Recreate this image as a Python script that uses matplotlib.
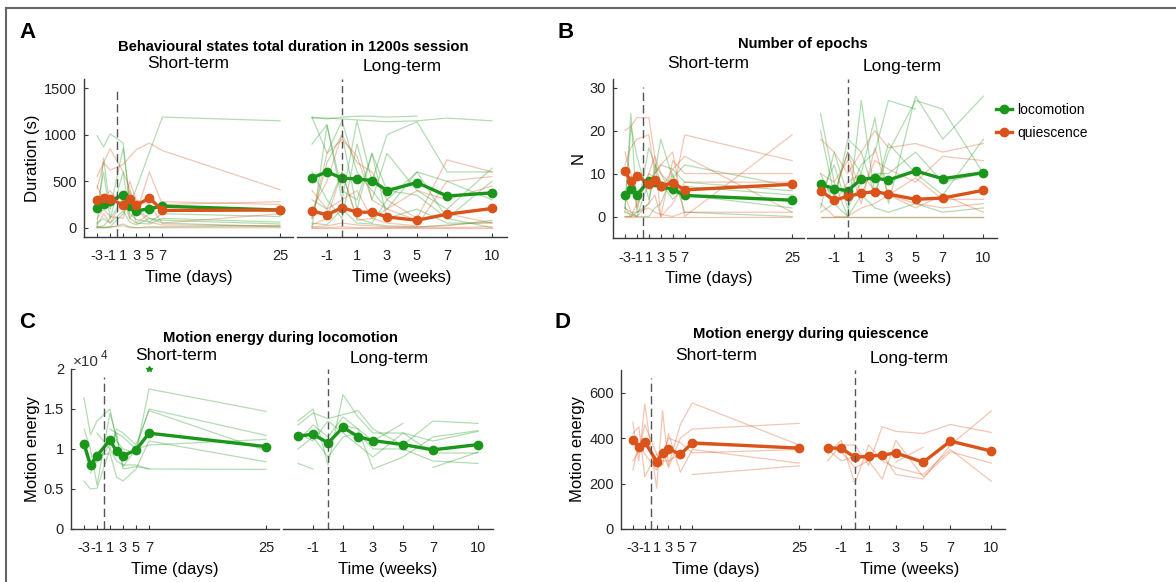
import numpy as np
import matplotlib
matplotlib.use("Agg")
from matplotlib import pyplot as plt
from matplotlib.lines import Line2D

plt.rcParams['font.family'] = ['Liberation Sans', 'DejaVu Sans']

GREEN = '#1a961a'
ORANGE = '#d9531a'
AXCOL = '#3a3a3a'
nan = np.nan

x_short = [-3, -2, -1, 1, 2, 3, 5, 7, 25]
x_long = [-2, -1, 0, 1, 2, 3, 5, 7, 10]
short_ticks = [-3, -1, 1, 3, 5, 7, 25]
long_ticks = [-1, 1, 3, 5, 7, 10]

# A: total duration (s)
dur_loco_short_mean = [217, 250, 283, 357, 232, 182, 204, 232, 190]
dur_quie_short_mean = [296, 321, 311, 243, 304, 239, 321, 186, 190]
dur_loco_long_mean = [536, 601, 533, 525, 507, 399, 486, 341, 375]
dur_quie_long_mean = [181, 138, 217, 167, 167, 116, 80, 145, 207]

dur_loco_short = [
    [990, 870, 1010, 910, 250, 420, 810, 1190, 1150],
    [30, 750, 200, 860, 300, 50, 40, 100, 60],
    [10, 20, 100, 600, 100, 200, 100, 50, 10],
    [10, 5, 10, 150, 280, 150, 200, 230, 190],
    [0, 0, 0, 40, 10, 0, 10, 10, 20],
    [200, 600, 100, 300, 150, 90, 60, 150, 120],
    [50, 100, 50, 180, 60, 30, 100, 80, 40],
]
dur_quie_short = [
    [420, 700, 620, 680, 760, 840, 910, 830, 410],
    [550, 700, 850, 600, 420, 200, 60, 30, 20],
    [100, 200, 120, 100, 400, 150, 600, 250, 280],
    [20, 150, 50, 300, 100, 50, 150, 280, 250],
    [0, 0, 10, 20, 0, 0, 0, 0, 0],
    [450, 300, 400, 200, 500, 300, 250, 50, 150],
]
dur_loco_long = [
    [1190, 1170, 1190, 1200, 1200, 1190, 1200, nan, nan],
    [1180, 1180, 1170, 1160, 1150, 1140, 1150, 1180, 1150],
    [900, 1110, 300, 1150, 500, 1000, 1140, 600, 600],
    [1190, 800, 1150, 600, 400, 200, 600, 500, 300],
    [100, 700, 1000, 200, 800, 400, 350, 100, 500],
    [600, 300, 100, 900, 300, 800, 400, 200, 640],
    [300, 200, 600, 100, 50, 300, 600, 100, 0],
    [0, 1100, 400, 300, 800, 100, 200, 50, 50],
    [50, 30, 200, 50, 40, 20, 10, 20, 80],
]
dur_quie_long = [
    [200, 500, 1000, 700, 600, 300, 100, 730, 600],
    [100, 800, 950, 770, 300, 200, 400, 300, 450],
    [0, 0, 0, 0, 0, 0, 0, 0, 0],
    [30, 100, 600, 80, 100, 50, 20, 500, 550],
    [400, 200, 300, 400, 100, 200, 80, 150, 50],
    [10, 20, 50, 30, 20, 10, 5, 30, 60],
    [0, 0, 10, 0, 0, 0, 0, 0, 10],
]

# B: number of epochs
epo_loco_short_mean = [4.9, 6.3, 5.1, 8.2, 8.1, 7.0, 6.3, 4.9, 3.8]
epo_quie_short_mean = [10.5, 8.2, 9.5, 7.6, 8.4, 7.0, 7.9, 6.2, 7.5]
epo_loco_long_mean = [7.5, 6.5, 6.0, 8.7, 8.9, 8.5, 10.6, 8.8, 10.2]
epo_quie_long_mean = [6.0, 3.8, 4.7, 5.4, 5.8, 5.2, 4.0, 4.3, 6.1]

epo_loco_short = [
    [2, 24, 1, 16, 12, 10, 7, 5, 2],
    [1, 21, 14, 4, 10, 18, 9, 12, 7],
    [1, 0.5, 0, 8, 10, 12, 11, 8, 6],
    [2, 1, 0, 0, 2, 3, 10, 1, 0],
    [0, 0, 1, 3, 12, 8, 4, 7, 5],
]
epo_quie_short = [
    [20, 21, 23, 23, 14, 10, 5, 19, 13],
    [12, 16, 18, 19, 10, 12, 15, 0, 19],
    [15, 10, 2, 10, 9, 6, 11, 14, 1],
    [0, 0, 3, 10, 14, 0, 13, 10, 10],
    [2, 0, 0, 3, 5, 0, 3, 8, 8],
    [0, 0, 0, 0, 0, 0, 0, 0, 0],
    [5, 1, 1, 2, 1, 0.5, 0, 1, 1],
]
epo_loco_long = [
    [24, 8, 0, 27, 5, 15, 27, 25, 10],
    [20, 5, 15, 10, 23, 3, 28, 18, 28],
    [2, 15, 5, 12, 15, 27, 25, nan, nan],
    [10, 3, 18, 15, 5, 17, 10, 5, 18],
    [5, 12, 2, 8, 10, 10, 15, 8, 10],
    [0, 0, 0, 0, 0, 0, 0, 0, 0],
    [1, 3, 0, 5, 2, 1, 3, 1, 2],
]
epo_quie_long = [
    [18, 15, 10, 15, 20, 16, 17, 15, 17],
    [8, 5, 15, 5, 13, 11, 8, 14, 13],
    [3, 0, 0, 2, 3, 5, 3, 2, 3],
    [0, 0, 0, 0, 0, 0, 0, 0, 0],
    [6, 3, 8, 10, 6, 5, 2, 5, 1],
    [10, 8, 13, 3, 16, 5, 9, 4, 4],
]

# C: motion energy during locomotion
me_loco_short_mean = [10680, 7970, 9160, 11140, 9700, 9160, 9870, 11980, 10300]
me_loco_long_mean = [11600, 11850, 10760, 12700, 11550, 11050, 10550, 9900, 10550]
me_loco_star = [7, 20000]

me_loco_short = [
    [16400, 11800, 13500, 15000, 11000, 10000, 9500, 17500, 14700],
    [12500, 10000, 5500, 14500, 11500, 7800, 10000, 15000, 11700],
    [6000, 5000, 5100, 10000, 12500, 12000, 10500, 14800, 9800],
    [nan, 7000, 9000, 9500, 6500, 6000, 7500, 11000, 8400],
    [nan, nan, 12000, 10000, 8500, 8000, 8000, 7500, 7450],
    [nan, nan, nan, 12500, 12000, 7500, 7800, 7500, nan],
    [10000, 7500, 8500, 10500, 12000, 11500, 10000, 10500, 11200],
]
me_loco_long = [
    [13500, 15000, 8000, 16800, 14000, 12000, 12000, 11000, 12200],
    [13000, 14500, 13800, 14300, 14800, 12500, 10500, 13500, 13200],
    [11000, 13000, 11500, 14000, 12500, 7500, 9000, 11500, 12300],
    [10000, 11500, 9000, 11500, 12000, 10000, 10000, 8500, 8200],
    [8200, 7500, nan, nan, nan, nan, nan, nan, nan],
    [12000, 11000, 13500, 12000, 10500, 9000, 12000, 9500, 9500],
    [nan, nan, nan, 13000, 12500, 11000, 13200, nan, nan],
    [nan, nan, nan, nan, nan, nan, nan, 7700, 9600],
]

# D: motion energy during quiescence
me_quie_short_mean = [390, 360, 384, 297, 334, 354, 328, 379, 356]
me_quie_long_mean = [356, 356, 315, 321, 325, 335, 294, 387, 343]

me_quie_short = [
    [470, 300, 550, 180, 520, 280, 460, 555, 370],
    [420, 450, 230, 330, 280, 420, 250, 350, 290],
    [260, 380, 330, 260, 320, 400, 380, 335, 350],
    [nan, nan, nan, 290, 350, 270, 400, 440, 465],
    [nan, nan, nan, nan, nan, nan, nan, 240, 278],
    [300, 340, 460, 330, 300, 300, 330, 370, 360],
]
me_quie_long = [
    [330, 390, 200, 370, 300, 270, 240, 350, 210],
    [300, 370, 370, 280, 450, 430, 420, 460, 425],
    [360, 340, 270, 300, 220, 390, 230, 340, 290],
    [nan, nan, nan, nan, nan, 295, 360, nan, nan],
    [350, 300, 320, 310, 330, 240, 220, 370, 520],
]


def frac(x0, y0, x1, y1):
    W, H = 1176.0, 582.0
    return [x0 / W, 1 - y1 / H, (x1 - x0) / W, (y1 - y0) / H]


def draw_side(ax, x, series, xlim, ticks, xlabel, scale):
    for traces, mean, color in series:
        for tr in traces:
            tr = np.asarray(tr, dtype=float)
            ok = np.isfinite(tr)
            ax.plot(np.asarray(x)[ok], tr[ok] / scale, color=color, lw=0.9, alpha=0.33)
    for traces, mean, color in series:
        ax.plot(x, np.asarray(mean) / scale, 'o-', color=color, lw=2.4, ms=6)
    ax.set_xlim(xlim)
    ax.set_xticks(ticks)
    ax.set_xticklabels([str(t) for t in ticks])
    ax.set_xlabel(xlabel, fontsize=12, labelpad=5)
    ax.tick_params(direction='in', length=3, width=0.8, colors=AXCOL,
                   labelsize=10.5, labelcolor='#222222')
    ax.tick_params(axis='x', pad=9)
    ax.tick_params(axis='y', pad=5)
    for s in ['top', 'right']:
        ax.spines[s].set_visible(False)
    for s in ['left', 'bottom']:
        ax.spines[s].set_color(AXCOL)
        ax.spines[s].set_linewidth(1.0)


def draw_panel(fig, rs, rl, ylim, yticks, ylabel, short_series, long_series, scale=1.0, vmax=0.95):
    axs = fig.add_axes(rs)
    axl = fig.add_axes(rl)
    draw_side(axs, x_short, short_series, (-5, 27), short_ticks, 'Time (days)', scale)
    draw_side(axl, x_long, long_series, (-3, 11), long_ticks, 'Time (weeks)', scale)
    for ax in (axs, axl):
        ax.set_ylim(ylim)
    axs.axvline(0, ymin=0, ymax=vmax, color='#555555', lw=1.0, ls=(0, (6, 3)))
    axl.axvline(0, ymin=0, ymax=1.0, color='#555555', lw=1.0, ls=(0, (5, 3)))
    axs.set_yticks(yticks)
    axs.set_yticklabels(['%g' % t for t in yticks])
    axs.set_ylabel(ylabel, fontsize=12, labelpad=3)
    axl.set_yticks([])
    axl.spines['left'].set_visible(False)
    return axs, axl


fig = plt.figure(figsize=(11.76, 5.82), dpi=100)

# A
draw_panel(fig, frac(84, 79, 293, 237), frac(297, 79, 507, 237), (-100, 1600),
           [0, 500, 1000, 1500], 'Duration (s)',
           [(dur_loco_short, dur_loco_short_mean, GREEN), (dur_quie_short, dur_quie_short_mean, ORANGE)],
           [(dur_loco_long, dur_loco_long_mean, GREEN), (dur_quie_long, dur_quie_long_mean, ORANGE)])

# B
axb, axbl = draw_panel(fig, frac(613, 79, 804, 238), frac(807, 79, 997, 238), (-5, 32),
                       [0, 10, 20, 30], 'N',
                       [(epo_loco_short, epo_loco_short_mean, GREEN), (epo_quie_short, epo_quie_short_mean, ORANGE)],
                       [(epo_loco_long, epo_loco_long_mean, GREEN), (epo_quie_long, epo_quie_long_mean, ORANGE)])

# C
axc, axcl = draw_panel(fig, frac(71, 369, 279, 529), frac(283, 369, 493, 529), (0, 2),
                       [0, 0.5, 1, 1.5, 2], 'Motion energy',
                       [(me_loco_short, me_loco_short_mean, GREEN)],
                       [(me_loco_long, me_loco_long_mean, GREEN)], scale=1e4)
axc.plot(me_loco_star[0], me_loco_star[1] / 1e4, marker='*', ms=4, color=GREEN, clip_on=False)

# D
draw_panel(fig, frac(621, 370, 811, 529), frac(814, 370, 1005, 529), (0, 700),
           [0, 200, 400, 600], 'Motion energy',
           [(me_quie_short, me_quie_short_mean, ORANGE)],
           [(me_quie_long, me_quie_long_mean, ORANGE)])

W, H = 1176.0, 582.0


def ftext(x, y, s, **kw):
    fig.text(x / W, 1 - y / H, s, ha='center', va='center', **kw)


# panel letters
ftext(27, 33, 'A', fontsize=16, fontweight='bold')
ftext(566, 32, 'B', fontsize=16, fontweight='bold')
ftext(27, 323, 'C', fontsize=16, fontweight='bold')
ftext(563, 323, 'D', fontsize=16, fontweight='bold')

# titles
ftext(293, 47, 'Behavioural states total duration in 1200s session', fontsize=10.6, fontweight='bold')
ftext(803, 44, 'Number of epochs', fontsize=10.6, fontweight='bold')
ftext(280, 338, 'Motion energy during locomotion', fontsize=10.6, fontweight='bold')
ftext(811, 334, 'Motion energy during quiescence', fontsize=10.6, fontweight='bold')

for xs, xl, y in [(188, 402, 64), (708, 902, 64), (176, 389, 355), (716, 909, 355)]:
    ftext(xs, y, 'Short-term', fontsize=12.5)
    ftext(xl, y + 3, 'Long-term', fontsize=12.5)

ftext(86, 362, '\u00d710', fontsize=11, color='#333333')
ftext(104, 356, '4', fontsize=8.5, color='#333333')

# legend
handles = [Line2D([], [], color=GREEN, marker='o', lw=2.4, ms=6),
           Line2D([], [], color=ORANGE, marker='o', lw=2.4, ms=6)]
fig.legend(handles, ['locomotion', 'quiescence'], loc='upper left',
           bbox_to_anchor=(990 / W, 1 - 97 / H), frameon=False, fontsize=10,
           handlelength=1.2, handletextpad=0.35, labelspacing=0.7, borderaxespad=0)

# outer frame
fig.add_artist(Line2D([6 / W, 1.0], [1 - 8 / H, 1 - 8 / H], color='#666666', lw=1.5))
fig.add_artist(Line2D([6 / W, 6 / W], [0, 1 - 8 / H], color='#666666', lw=1.5))

fig.savefig('out.png', dpi=100)
